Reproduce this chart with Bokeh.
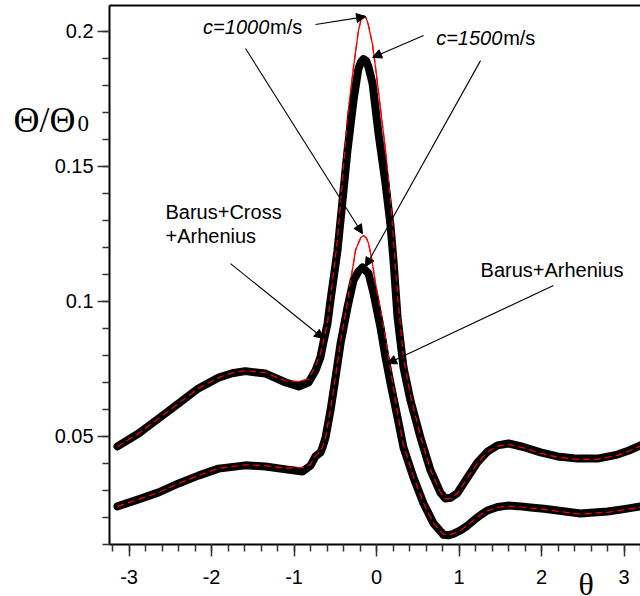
from bokeh.plotting import figure
from bokeh.models import Range1d, FixedTicker, Label, Arrow, NormalHead, CustomJSTickFormatter, LinearAxis
from bokeh.embed import file_html
from bokeh.resources import INLINE

# ---------------- data ----------------
# Barus+Cross+Arhenius, c=1500 m/s (thick black)
theta_bca_1500 = [-3.14, -2.885, -2.64, -2.40, -2.16, -1.915, -1.75, -1.59, -1.345, -1.10,
                  -0.945, -0.824, -0.74, -0.68, -0.642, -0.594, -0.558, -0.473, -0.412, -0.352,
                  -0.279, -0.22, -0.19, -0.158, -0.125, -0.10, -0.048, 0.024, 0.109, 0.17,
                  0.206, 0.255, 0.327, 0.412,
                  0.533, 0.655, 0.776, 0.836, 0.90, 0.982, 1.103, 1.224, 1.345, 1.467,
                  1.60, 1.782, 1.988, 2.194, 2.436, 2.679, 2.921, 3.06, 3.20]
ratio_bca_1500 = [0.0462, 0.0510, 0.0566, 0.0621, 0.0677, 0.0717, 0.0733, 0.0741, 0.0732, 0.0699,
                  0.0684, 0.0699, 0.0743, 0.0792, 0.0850, 0.0917, 0.1003, 0.1188, 0.1373, 0.1558,
                  0.1743, 0.1860, 0.1885, 0.1897, 0.1890, 0.1870, 0.1806, 0.1621, 0.1436, 0.1280,
                  0.1150, 0.0940, 0.0755, 0.0632,
                  0.0495, 0.0373, 0.0290, 0.0269, 0.0272, 0.0290, 0.0347, 0.0403, 0.0443, 0.0466,
                  0.0473, 0.0460, 0.0440, 0.0425, 0.0417, 0.0417, 0.0432, 0.0447, 0.0466]

# Barus+Cross+Arhenius, c=1000 m/s (thin red)
theta_bca_1000 = [-3.14, -2.885, -2.64, -2.40, -2.16, -1.915, -1.75, -1.59, -1.345, -1.10,
                  -0.945, -0.824, -0.74, -0.68, -0.642, -0.594, -0.558, -0.473, -0.412, -0.352,
                  -0.279, -0.22, -0.19, -0.158, -0.125, -0.10, -0.048, -0.012, 0.024, 0.085,
                  0.109, 0.17, 0.23, 0.255, 0.327, 0.412,
                  0.533, 0.655, 0.776, 0.836, 0.90, 0.982, 1.103, 1.224, 1.345, 1.467,
                  1.60, 1.782, 1.988, 2.194, 2.436, 2.679, 2.921, 3.06, 3.20]
ratio_bca_1000 = [0.0462, 0.0510, 0.0566, 0.0621, 0.0677, 0.0717, 0.0735, 0.0743, 0.0735, 0.0705,
                  0.0702, 0.0712, 0.0760, 0.0805, 0.0855, 0.0920, 0.1010, 0.1230, 0.1450, 0.1680,
                  0.1866, 0.2000, 0.2040, 0.2058, 0.2048, 0.2025, 0.1950, 0.1866, 0.1775, 0.1620,
                  0.1560, 0.1373, 0.1125, 0.1020, 0.0790, 0.0650,
                  0.0500, 0.0376, 0.0291, 0.0268, 0.0270, 0.0289, 0.0346, 0.0401, 0.0441, 0.0463,
                  0.0470, 0.0457, 0.0437, 0.0422, 0.0414, 0.0414, 0.0429, 0.0445, 0.0464]

# Barus+Arhenius, c=1500 m/s (thick black)
theta_ba_1500 = [-3.14, -2.885, -2.64, -2.40, -2.16, -1.915, -1.59, -1.345, -1.10, -0.897,
                 -0.80, -0.74, -0.679, -0.655, -0.618, -0.558, -0.497, -0.436, -0.352, -0.279,
                 -0.22, -0.17, -0.097, -0.036, 0.048, 0.109, 0.17, 0.255, 0.327, 0.448,
                 0.570,
                 0.691, 0.812, 0.87, 0.93, 1.018, 1.10, 1.176, 1.26, 1.345, 1.467,
                 1.588, 1.72, 1.867, 2.03, 2.194, 2.473, 2.80, 3.00, 3.20]
ratio_ba_1500 = [0.0240, 0.0266, 0.0292, 0.0325, 0.0354, 0.0380, 0.0392, 0.0388, 0.0377, 0.0369,
                 0.0391, 0.0425, 0.0440, 0.0458, 0.0495, 0.0595, 0.0717, 0.0843, 0.0977, 0.1077,
                 0.1110, 0.1125, 0.1103, 0.1029, 0.0903, 0.0792, 0.0695, 0.0569, 0.0458, 0.0347,
                 0.0251,
                 0.0177, 0.0135, 0.0133, 0.0138, 0.0151, 0.0168, 0.0188, 0.0208, 0.0225, 0.0238,
                 0.0243, 0.0241, 0.0236, 0.0231, 0.0225, 0.0214, 0.0221, 0.0230, 0.0240]

# Barus+Arhenius, c=1000 m/s (thin red)
theta_ba_1000 = [-3.14, -2.885, -2.64, -2.40, -2.16, -1.915, -1.59, -1.345, -1.10, -0.897,
                 -0.80, -0.74, -0.679, -0.655, -0.618, -0.558, -0.497, -0.436, -0.352, -0.315,
                 -0.279, -0.255, -0.22, -0.19, -0.158, -0.125, -0.097, -0.06, -0.012, 0.073,
                 0.133, 0.194, 0.255, 0.327, 0.448, 0.570,
                 0.691, 0.812, 0.87, 0.93, 1.018, 1.10, 1.176, 1.26, 1.345, 1.467,
                 1.588, 1.72, 1.867, 2.03, 2.194, 2.473, 2.80, 3.00, 3.20]
ratio_ba_1000 = [0.0240, 0.0266, 0.0292, 0.0325, 0.0354, 0.0381, 0.0394, 0.0391, 0.0382, 0.0384,
                 0.0395, 0.0428, 0.0443, 0.0460, 0.0497, 0.0598, 0.0722, 0.0850, 0.0995, 0.1077,
                 0.1140, 0.1188, 0.1215, 0.1236, 0.1243, 0.1235, 0.1215, 0.1160, 0.1066, 0.0930,
                 0.0817, 0.0700, 0.0585, 0.0468, 0.0350, 0.0253,
                 0.0178, 0.0136, 0.0134, 0.0139, 0.0152, 0.0169, 0.0189, 0.0208, 0.0224, 0.0236,
                 0.0241, 0.0239, 0.0234, 0.0229, 0.0222, 0.0211, 0.0218, 0.0227, 0.0237]

x_major_ticks = [-3, -2, -1, 0, 1, 2, 3]
x_minor_ticks = [round(-3.2 + 0.2 * i, 1) for i in range(33)]
y_major_ticks = [0.05, 0.1, 0.15, 0.2]
y_minor_ticks = [round(0.01 * i, 2) for i in range(1, 21)]

# axes box (data units)
X_LEFT, X_RIGHT = -3.236, 3.2
Y_BOTTOM, Y_TOP = 0.0099, 0.2095

# ---------------- figure ----------------
p = figure(width=640, height=596,
           x_range=Range1d(-4.558, 3.2), y_range=Range1d(-0.00937, 0.21137),
           output_backend="svg", toolbar_location=None,
           x_axis_location=None, y_axis_location=None,
           min_border_left=0, min_border_right=0, min_border_top=0, min_border_bottom=0)
p.xgrid.visible = False
p.ygrid.visible = False
p.outline_line_color = None
p.background_fill_color = "white"
p.border_fill_color = "white"

xaxis = LinearAxis(fixed_location=Y_BOTTOM, bounds=(X_LEFT, X_RIGHT))
yaxis = LinearAxis(fixed_location=X_LEFT, bounds=(Y_BOTTOM, Y_TOP))
for ax, major, minor, fmt in ((xaxis, x_major_ticks, x_minor_ticks, "return tick.toFixed(0)"),
                              (yaxis, y_major_ticks, y_minor_ticks, "return String(Math.round(tick*100)/100)")):
    ax.ticker = FixedTicker(ticks=major, minor_ticks=minor)
    ax.formatter = CustomJSTickFormatter(code=fmt)
    ax.axis_line_color = "black"
    ax.axis_line_width = 2
    ax.major_tick_in = 0
    ax.minor_tick_in = 0
    ax.major_tick_out = 12
    ax.minor_tick_out = 7
    ax.major_tick_line_color = "#333333"
    ax.minor_tick_line_color = "#333333"
    ax.major_tick_line_width = 1.5
    ax.minor_tick_line_width = 1.5
    ax.major_label_text_font = "Liberation Sans"
    ax.major_label_text_font_size = "20px"
    ax.major_label_text_color = "black"
yaxis.major_label_standoff = 4
xaxis.major_label_standoff = 14
p.add_layout(xaxis, "below")
p.add_layout(yaxis, "left")

# top border of the box
topaxis = LinearAxis(fixed_location=Y_TOP, bounds=(X_LEFT, X_RIGHT),
                     ticker=FixedTicker(ticks=[]), axis_line_color="black", axis_line_width=2,
                     major_tick_line_color=None, minor_tick_line_color=None,
                     major_label_text_font_size="0px")
p.add_layout(topaxis, "above")

# curves: red under, black thick, red dashed on top
for th, r in ((theta_bca_1000, ratio_bca_1000), (theta_ba_1000, ratio_ba_1000)):
    p.line(th, r, line_color="red", line_width=1.3)
for th, r in ((theta_bca_1500, ratio_bca_1500), (theta_ba_1500, ratio_ba_1500)):
    p.line(th, r, line_color="black", line_width=8, line_cap="round", line_join="round")
for th, r in ((theta_bca_1000, ratio_bca_1000), (theta_ba_1000, ratio_ba_1000)):
    p.line(th, r, line_color="red", line_width=1.2, line_dash="7 4")

# ---------------- annotations ----------------
sans = "Liberation Sans"
def lab(x, y, t, style="normal", align="left", size="20px", font=sans, baseline="middle"):
    p.add_layout(Label(x=x, y=y, text=t, text_font=font, text_font_size=size,
                       text_font_style=style, text_align=align, text_baseline=baseline,
                       text_color="black"))

lab(-1.30, 0.2014, "c=1000", style="italic", align="right")
lab(-1.29, 0.2014, "m/s")
lab(1.525, 0.1973, "c=1500", style="italic", align="right")
lab(1.535, 0.1973, "m/s")
lab(-2.558, 0.1329, "Barus+Cross")
lab(-2.558, 0.1243, "+Arhenius")
lab(1.261, 0.1114, "Barus+Arhenius")

# axis titles
lab(-4.40, 0.1671, "Θ/Θ", size="36px", font="Liberation Serif")
lab(-3.624, 0.1658, "0", size="23px", font="Liberation Serif")
lab(2.448, -0.0046, "θ", size="32px", font="Liberation Serif")

arrows = [(-0.739, 0.2025, -0.133, 0.2054),
          (-1.588, 0.1936, -0.170, 0.1250),
          (0.570, 0.1984, -0.048, 0.1903),
          (1.261, 0.1891, -0.133, 0.1128),
          (-1.770, 0.1139, -0.642, 0.0862),
          (2.145, 0.1058, 0.133, 0.0769)]
for xs, ys, xe, ye in arrows:
    p.add_layout(Arrow(x_start=xs, y_start=ys, x_end=xe, y_end=ye, line_width=1.1, line_color="black",
                       end=NormalHead(size=9, fill_color="black", line_color="black", line_width=1)))

open("out.html", "w").write(file_html(p, INLINE))
